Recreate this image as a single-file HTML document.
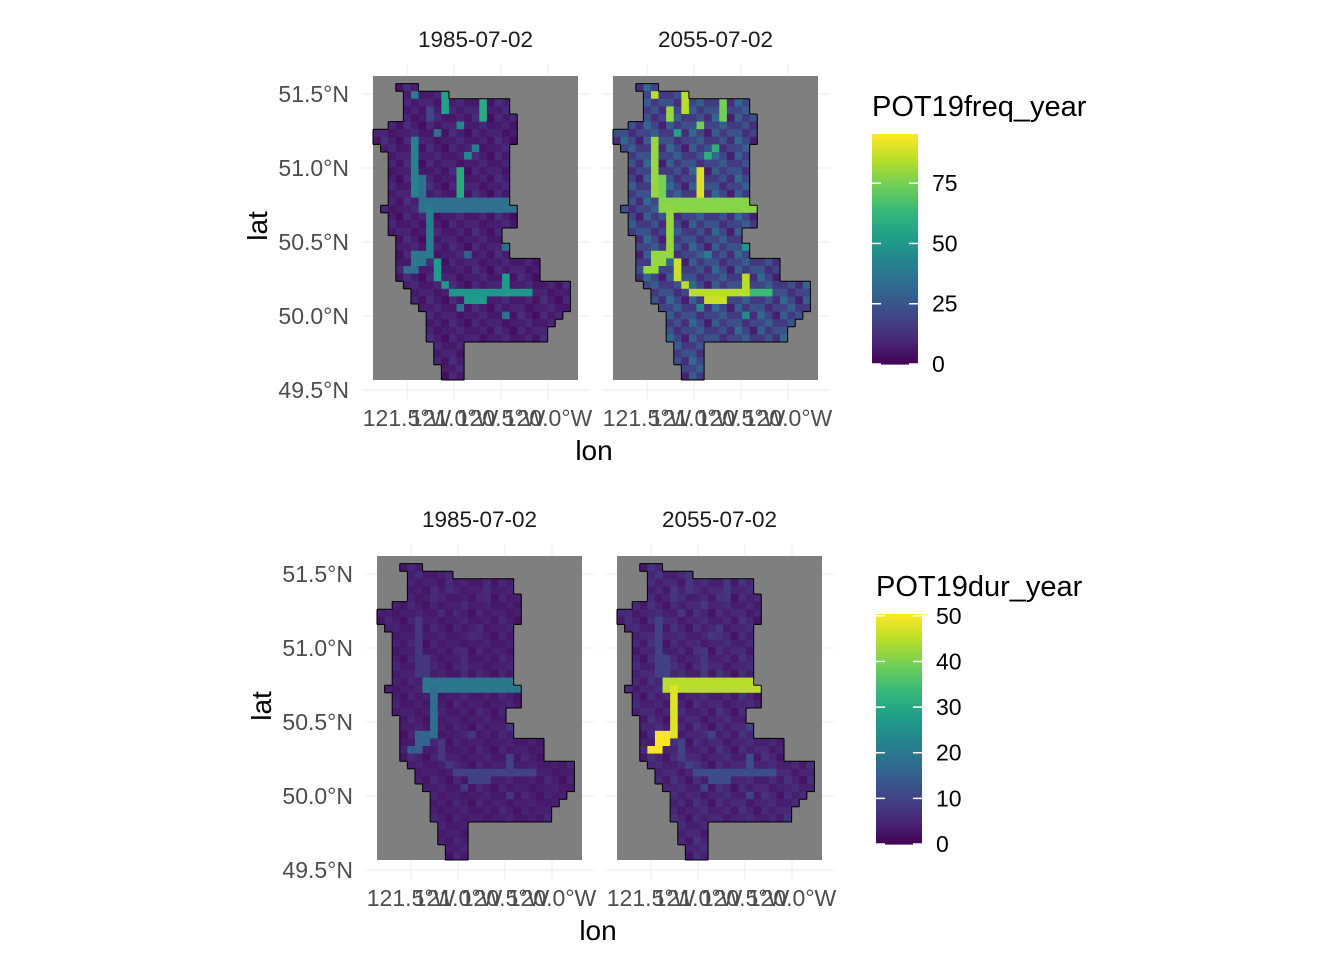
<!DOCTYPE html>
<html><head><meta charset="utf-8"><style>
body{margin:0;background:#fff;}
svg{display:block;font-family:"Liberation Sans",Arial,sans-serif;}
</style></head><body>
<svg id="c" width="1344" height="960"></svg>
<script>
const rowStart=[99,3,4,4,4,4,2,0,0,1,2,2,2,2,2,2,2,1,2,2,2,3,3,3,3,3,3,4,5,5,6,7,7,7,7,8,8,8,9,9];
const rowEnd=[-1,5,9,17,17,18,18,18,18,17,17,17,17,17,17,17,17,18,18,18,16,16,17,17,21,21,21,25,25,25,25,24,23,22,22,11,11,11,11,11];
const panelTitles=["1985-07-02","2055-07-02"];
const baseValues=[8,20,4,5];
const texAmp=[3,8,1,1.5];
const riverCells=[
[2,4,9,9],[3,5,14,14],[2,2,5,5],[4,5,7,7],[6,6,11,11],[7,7,8,8],
[8,15,5,5],[13,15,6,6],[12,15,11,11],[10,10,12,12],[9,9,13,13],
[16,17,6,18],[17,23,7,7],[23,24,5,6],[25,25,4,5],[24,26,8,8],[27,27,9,9],
[28,28,10,17],[29,29,12,14],[26,28,17,17],[28,28,18,20],[30,30,11,11],[31,31,17,17],[21,22,17,17],[23,23,12,12]];
const riverValues=[
[55,58,40,20,45,35,42,35,58,45,40,35,40,38,35,52,50,50,52,52,50,35,35,35,30],
[85,75,85,80,75,55,80,75,90,60,60,78,80,80,80,88,85,85,88,85,65,45,45,50,40],
[6,6,6,6,6,6,8,8,6,6,6,20,18,16,15,8,8,10,10,10,10,8,8,8,8],
[8,8,8,8,8,8,10,10,8,8,8,45,48,50,50,10,10,12,12,12,12,10,10,10,10]];
const freqTicks=[0,25,50,75];const durTicks=[0,10,20,30,40,50];
const latTicks=["51.5°N","51.0°N","50.5°N","50.0°N","49.5°N"];
const lonTicks=["121.5°W","121.0°W","120.5°W","120.0°W"];

const NS="http://www.w3.org/2000/svg",svg=document.getElementById('c');
function el(t,a,p){const e=document.createElementNS(NS,t);for(const k in a)e.setAttribute(k,a[k]);(p||svg).appendChild(e);return e;}
const V=["#440154","#482878","#3e4989","#31688e","#26828e","#1f9e89","#35b779","#6ece58","#b5de2b","#fde725"];
function vir(t){t=Math.max(0,Math.min(1,t))*9;const i=Math.min(8,Math.floor(t)),f=t-i;
 const a=V[i],b=V[i+1];const h=(s,k)=>parseInt(s.substr(1+2*k,2),16);
 return "rgb("+[0,1,2].map(k=>Math.round(h(a,k)+(h(b,k)-h(a,k))*f)).join(",")+")";}
const NR=40,NC=27;
function inMask(r,c){return r>=0&&r<NR&&c>=rowStart[r]&&c<=rowEnd[r];}
function drawPanel(px,py,pi,vmax,title){
 const g=el('g',{});
 const W=205,H=304,cw=W/NC,ch=H/NR;
 const yOf=v=>py+18+(51.5-v)*148;const xs=[0,1,2,3].map(i=>px+34+i*47);
 for(let i=0;i<5;i++)el('line',{x1:px-11,x2:px+W+12,y1:yOf(51.5-0.5*i),y2:yOf(51.5-0.5*i),stroke:"#ebebeb","stroke-width":1},g);
 xs.forEach(x=>el('line',{x1:x,x2:x,y1:py-12,y2:py+H+20,stroke:"#ebebeb","stroke-width":1},g));
 el('rect',{x:px,y:py,width:W,height:H,fill:"#7f7f7f"},g);
 const grid=[];for(let r=0;r<NR;r++){grid.push([]);for(let c=0;c<NC;c++)grid[r].push(inMask(r,c)?baseValues[pi]:null);}
 riverCells.forEach((s,k)=>{for(let r=s[0];r<=s[1];r++)for(let c=s[2];c<=s[3];c++)if(grid[r]&&grid[r][c]!=null)grid[r][c]=riverValues[pi][k];});
 for(let r=0;r<NR;r++)for(let c=0;c<NC;c++){if(grid[r][c]==null)continue;
  const tex=(((r*7+c*13)%5-2)/2+((r*3+c*5)%3-1)*0.5)*texAmp[pi];
  const cell=el('rect',{x:px+c*cw,y:py+r*ch,width:cw+0.4,height:ch+0.4,fill:vir((grid[r][c]+(grid[r][c]<=baseValues[pi]?tex:0))/vmax)},g);
  }
 let d="";for(let r=0;r<NR;r++)for(let c=0;c<NC;c++){if(!inMask(r,c))continue;const x=px+c*cw,y=py+r*ch;
  if(!inMask(r-1,c))d+=`M${x} ${y}h${cw}`;if(!inMask(r+1,c))d+=`M${x} ${y+ch}h${cw}`;
  if(!inMask(r,c-1))d+=`M${x} ${y}v${ch}`;if(!inMask(r,c+1))d+=`M${x+cw} ${y}v${ch}`;}
 const o=el('path',{d:d,stroke:"#000","stroke-width":1,fill:"none"},g);
 const t=el('text',{x:px+W/2,y:py-29,"font-size":22.5,fill:"#1a1a1a","text-anchor":"middle"},g);t.textContent=title;
 
 lonTicks.forEach((s,i)=>{const l=el('text',{x:xs[i],y:py+H+46,"font-size":23,fill:"#4d4d4d","text-anchor":"middle"},g);l.textContent=s;
  });
 return yOf;
}
function drawRow(ox,oy,pA,pB,vmax,ticks,ltitle,lx,ly){
 let yOf=drawPanel(ox,oy,pA,vmax,panelTitles[0]);drawPanel(ox+240,oy,pB,vmax,panelTitles[1]);
 latTicks.forEach((s,i)=>{const l=el('text',{x:ox-24,y:yOf(51.5-0.5*i)+8,"font-size":23,fill:"#4d4d4d","text-anchor":"end"});l.textContent=s;
  });
 const a=el('text',{x:0,y:0,"font-size":28,fill:"#000","text-anchor":"middle",transform:`translate(${ox-106},${oy+150}) rotate(-90)`});a.textContent="lat";
 
 const b=el('text',{x:ox+221,y:oy+384,"font-size":28,fill:"#000","text-anchor":"middle"});b.textContent="lon";
 
 const lt=el('text',{x:lx,y:ly-8,"font-size":29,fill:"#000"});lt.textContent=ltitle;
 
 const top=ly+10,bot=ly+240,tot=bot-top;
 for(let i=0;i<100;i++){el('rect',{x:lx,y:top+tot*i/100,width:46,height:tot/100+0.6,fill:vir(1-i/100)});}
 ticks.forEach(v=>{const y=bot-v/vmax*tot;
  el('line',{x1:lx,x2:lx+9,y1:y,y2:y,stroke:"#fff","stroke-width":1.5});el('line',{x1:lx+37,x2:lx+46,y1:y,y2:y,stroke:"#fff","stroke-width":1.5});
  const l=el('text',{x:lx+60,y:y+8,"font-size":23,fill:"#000"});l.textContent=v;
  });
}
drawRow(373,76,0,1,95.4,freqTicks,"POT19freq_year",872,124);
drawRow(377,556,2,3,50.4,durTicks,"POT19dur_year",876,604);
</script>
</body></html>
